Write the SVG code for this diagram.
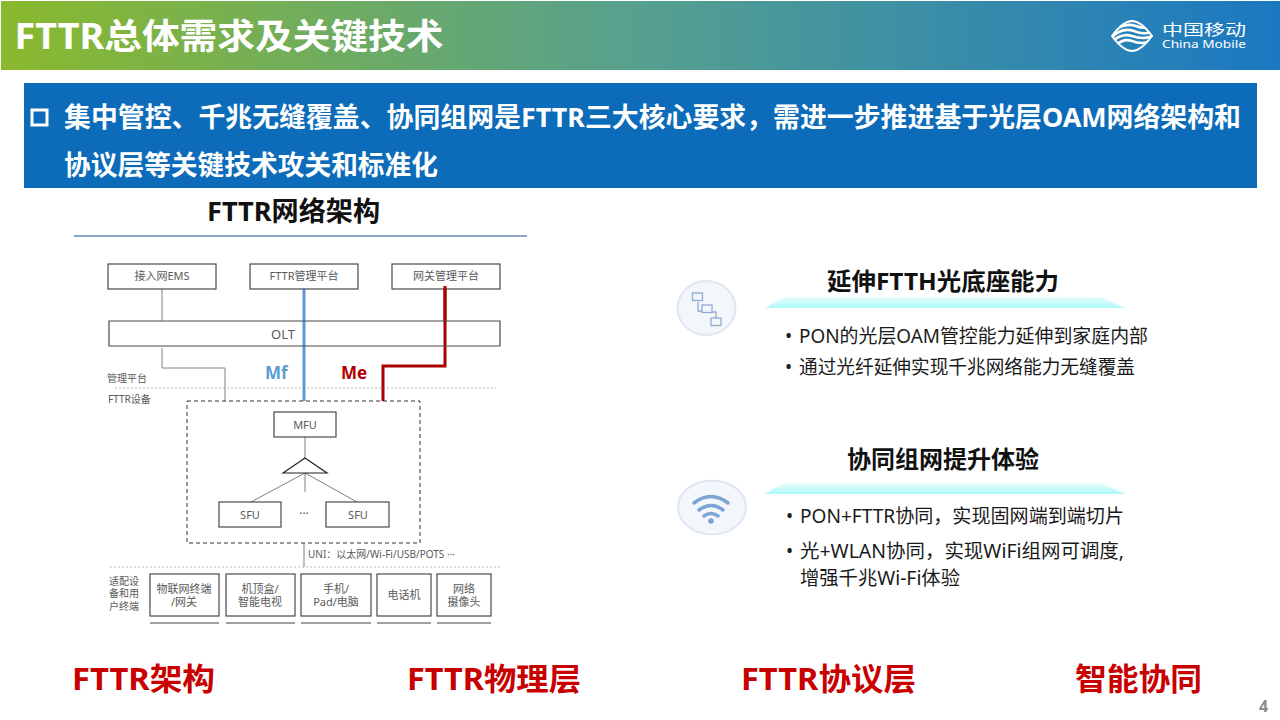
<svg xmlns="http://www.w3.org/2000/svg" width="1280" height="720" viewBox="0 0 1280 720">
<style>
text{font-family:"Noto Sans","Noto Sans CJK SC",sans-serif}
.b{font-weight:700}
.w{fill:#fff}
.box{fill:#fff;stroke:#4a4a4a;stroke-width:1.2}
.n{font-size:11px;fill:#5a5a5a;text-anchor:middle}
.s{font-size:10px;fill:#5a5a5a}
.bl{font-size:19px;fill:#1a1a1a}
.h{font-size:24px;fill:#111;font-weight:700;text-anchor:middle}
.r{font-size:31px;fill:#c80000;font-weight:700}
.l{stroke:#808080;stroke-width:1;fill:none}
.u{stroke:#444;stroke-width:1;fill:none}
</style>
<defs>
<linearGradient id="hd" x1="0" x2="1" y1="0" y2="0"><stop offset="0" stop-color="#8ab92d"/><stop offset="0.5" stop-color="#56a08f"/><stop offset="1" stop-color="#1a78c2"/></linearGradient>
<linearGradient id="cy" x1="0" x2="0" y1="0" y2="1"><stop offset="0" stop-color="#e6fdfd"/><stop offset="1" stop-color="#aef9f9"/></linearGradient>
<clipPath id="lc"><path d="M1111 36Q1123 20 1132 20Q1141 20 1153 36Q1141 52 1132 52Q1123 52 1111 36Z"/></clipPath>
</defs>
<rect width="1280" height="720" fill="#fff"/>
<g id="header">
<rect x="1" y="1" width="1279" height="69" fill="url(#hd)"/>
<text class="b w" x="14.500" y="49" font-size="35" textLength="429" lengthAdjust="spacingAndGlyphs">FTTR总体需求及关键技术</text>
</g>
<g id="logo">
<path d="M1112 36Q1123 21 1132 21Q1141 21 1152 36Q1141 51 1132 51Q1123 51 1112 36Z" fill="none" stroke="#fff" stroke-width="1.800"/>
<g clip-path="url(#lc)" fill="none" stroke="#fff" stroke-width="2.600">
<path d="M1112 32Q1124 22 1136 26Q1143 29 1150 27"/>
<path d="M1112 37Q1122 27 1134 31Q1143 35 1152 32"/>
<path d="M1113 41Q1122 33 1132 36Q1143 40 1153 36"/>
<path d="M1116 45Q1124 38 1132 41Q1142 45 1150 41"/>
</g>
<text x="1162" y="34.500" font-size="15" fill="#fff" textLength="84" lengthAdjust="spacingAndGlyphs">中国移动</text>
<text x="1162" y="48" font-size="10" fill="#fff" textLength="84" lengthAdjust="spacingAndGlyphs">China Mobile</text>
</g>
<g id="banner">
<rect x="24" y="83" width="1233" height="105" fill="#0c6cba"/>
<rect x="32" y="110" width="15" height="15" fill="none" stroke="#fff" stroke-width="3"/>
<text class="b w" x="64" y="127" font-size="27" textLength="1177" lengthAdjust="spacingAndGlyphs">集中管控、千兆无缝覆盖、协同组网是FTTR三大核心要求，需进一步推进基于光层OAM网络架构和</text>
<text class="b w" x="64" y="175" font-size="27" textLength="374" lengthAdjust="spacingAndGlyphs">协议层等关键技术攻关和标准化</text>
</g>
<g id="arch-title">
<text class="b" x="207" y="221" font-size="27" fill="#111" textLength="173" lengthAdjust="spacingAndGlyphs">FTTR网络架构</text>
<rect x="74" y="235" width="453" height="2" fill="#8fa6cc"/>
</g>
<g id="connectors">
<path class="l" d="M162 288V321M162 348V368H225V401M305 437V458M305 473V492M305 473L251 502M305 473L357 502M304 543V567"/>
<path d="M304 288V401" stroke="#5b9bd5" stroke-width="3" fill="none"/>
<path d="M445 286V366H383V401" stroke="#a80000" stroke-width="3" fill="none"/>
<path d="M115 388H496M110 567H500" stroke="#888" stroke-width="0.600" stroke-dasharray="2 2" fill="none"/>
</g>
<g id="ems"><rect class="box" x="108" y="264" width="108" height="25"/><text class="n" x="162" y="280">接入网EMS</text></g>
<g id="fttr-mgmt"><rect class="box" x="250" y="264" width="108" height="25"/><text class="n" x="304" y="280">FTTR管理平台</text></g>
<g id="gw-mgmt"><rect class="box" x="392" y="264" width="108" height="25"/><text class="n" x="446" y="280">网关管理平台</text></g>
<path d="M445 286V322" stroke="#a80000" stroke-width="3"/>
<g id="olt"><path d="M109 321H500V346H109Z" fill="none" stroke="#4a4a4a" stroke-width="1.200"/><text x="283" y="339" font-size="13" fill="#5a5a5a" text-anchor="middle">OLT</text></g>
<g id="labels">
<text class="b" x="265" y="379" font-size="17" fill="#5b9bd5">Mf</text>
<text class="b" x="341" y="379" font-size="17" fill="#b00000">Me</text>
<text class="s" x="107" y="382">管理平台</text>
<text class="s" x="108" y="403">FTTR设备</text>
<text class="s" x="308" y="558" textLength="147" lengthAdjust="spacingAndGlyphs">UNI：以太网/Wi-Fi/USB/POTS ···</text>
<text class="s"><tspan x="109" y="585">适配设</tspan><tspan x="109" y="597">备和用</tspan><tspan x="109" y="610">户终端</tspan></text>
</g>
<g id="fttr-device"><rect x="187" y="401" width="233" height="142" fill="none" stroke="#333" stroke-width="1" stroke-dasharray="4 3"/></g>
<g id="mfu"><rect class="box" x="274" y="412" width="62" height="25"/><text class="n" x="305" y="429">MFU</text></g>
<g id="splitter"><path d="M283 473L305 458L327 473Z" fill="#fff" stroke="#222" stroke-width="1.200"/></g>
<g id="sfu1"><rect class="box" x="219" y="502" width="62" height="25"/><text class="n" x="250" y="519">SFU</text></g>
<g id="sfu2"><rect class="box" x="326" y="502" width="63" height="25"/><text class="n" x="358" y="519">SFU</text></g>
<text x="304" y="518" font-size="12" fill="#5a5a5a" text-anchor="middle">···</text>
<g id="t1"><rect class="box" x="150" y="574" width="69" height="42"/><text class="n" x="184" y="593">物联网终端</text><text class="n" x="184" y="606">/网关</text><path class="u" d="M150 623H219"/></g>
<g id="t2"><rect class="box" x="226" y="574" width="69" height="42"/><text class="n" x="260" y="593">机顶盒/</text><text class="n" x="260" y="606">智能电视</text><path class="u" d="M226 623H295"/></g>
<g id="t3"><rect class="box" x="301" y="574" width="70" height="42"/><text class="n" x="336" y="593">手机/</text><text class="n" x="336" y="606">Pad/电脑</text><path class="u" d="M301 623H371"/></g>
<g id="t4"><rect class="box" x="377" y="574" width="54" height="42"/><text class="n" x="404" y="599">电话机</text><path class="u" d="M377 623H431"/></g>
<g id="t5"><rect class="box" x="437" y="574" width="54" height="42"/><text class="n" x="464" y="593">网络</text><text class="n" x="464" y="606">摄像头</text><path class="u" d="M437 623H491"/></g>
<g id="icon1">
<ellipse cx="706.500" cy="308" rx="29" ry="27" fill="#f3f6fb" stroke="#e0e7f2" stroke-width="2"/>
<g fill="#f3f6fb" stroke="#90acd2" stroke-width="1.300"><path d="M698 302V311H702M712 312H716V318" fill="none"/><rect x="692.500" y="293" width="10" height="7.500"/><rect x="702" y="305" width="10" height="7.500"/><rect x="711" y="318" width="10" height="7.500"/></g>
</g>
<g id="block1">
<path d="M765 308L785 297H1100L1125 308Z" fill="url(#cy)"/>
<text class="h" x="943" y="290" textLength="232" lengthAdjust="spacingAndGlyphs">延伸FTTH光底座能力</text>
<text class="bl" x="785" y="343">•</text><text class="bl" x="799" y="343" textLength="349" lengthAdjust="spacingAndGlyphs">PON的光层OAM管控能力延伸到家庭内部</text>
<text class="bl" x="785" y="374">•</text><text class="bl" x="799" y="374" textLength="336" lengthAdjust="spacingAndGlyphs">通过光纤延伸实现千兆网络能力无缝覆盖</text>
</g>
<g id="icon2">
<ellipse cx="712" cy="507.500" rx="34" ry="27" fill="#f3f6fb" stroke="#e0e7f2" stroke-width="2"/>
<g fill="none" stroke="#7da4d4" stroke-width="3.500" stroke-linecap="round"><path d="M694 503Q711 490 728 503M699 510Q711 501 723 510M704 516Q711 511 718 516"/></g>
<circle cx="711" cy="521" r="2.800" fill="#7da4d4"/>
</g>
<g id="block2">
<path d="M764 494L785 483H1100L1126 494Z" fill="url(#cy)"/>
<text class="h" x="943" y="468" textLength="192" lengthAdjust="spacingAndGlyphs">协同组网提升体验</text>
<text class="bl" x="786" y="523">•</text><text class="bl" x="800" y="523" textLength="324" lengthAdjust="spacingAndGlyphs">PON+FTTR协同，实现固网端到端切片</text>
<text class="bl" x="786" y="558">•</text><text class="bl" x="800" y="558" textLength="324" lengthAdjust="spacingAndGlyphs">光+WLAN协同，实现WiFi组网可调度,</text>
<text class="bl" x="800" y="585" textLength="160" lengthAdjust="spacingAndGlyphs">增强千兆Wi-Fi体验</text>
</g>
<g id="footer">
<text class="r" x="72" y="690" textLength="143" lengthAdjust="spacingAndGlyphs">FTTR架构</text>
<text class="r" x="407" y="690" textLength="174" lengthAdjust="spacingAndGlyphs">FTTR物理层</text>
<text class="r" x="741" y="690" textLength="175" lengthAdjust="spacingAndGlyphs">FTTR协议层</text>
<text class="r" x="1075" y="690" textLength="127" lengthAdjust="spacingAndGlyphs">智能协同</text>
<text x="1259" y="712" font-size="16" font-weight="700" fill="#8c8c8c">4</text>
</g>
</svg>
